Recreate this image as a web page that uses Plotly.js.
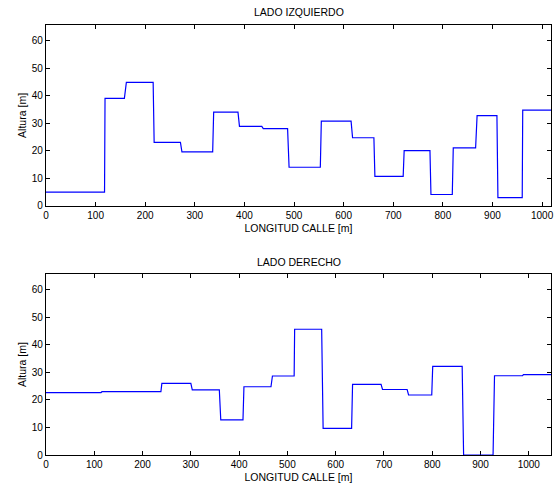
<!DOCTYPE html>
<html>
<head>
<meta charset="utf-8">
<script src="https://cdn.plot.ly/plotly-3.0.1.min.js"></script>
<style>html,body{margin:0;padding:0;background:#fff;}#chart{width:554px;height:486px;}</style>
</head>
<body>
<div id="chart"></div>
<script>
// LADO IZQUIERDO (left side) - distance [m] and building height [m]
const leftX = [0,118,119,158,162,216,218,271,274,336,338,387,390,435,438,487,490,553,555,615,618,661,663,720,722,774,776,819,821,866,869,909,911,960,961,1018];
const leftY = [5,5,39,39,44.8,44.8,23,23,19.6,19.6,34,34,28.8,28.8,28,28,14,14,30.7,30.7,24.7,24.7,10.7,10.7,20,20,4.1,4.1,21,21,32.7,32.7,3,3,34.7,34.7];

// LADO DERECHO (right side)
const rightX = [0,114,116,238,240,300,303,359,362,408,410,466,469,514,515,571,574,633,635,694,697,748,751,799,801,862,865,926,929,987,989,1046];
const rightY = [22.7,22.7,23,23,26,26,23.7,23.7,12.8,12.8,24.8,24.8,28.7,28.7,45.7,45.7,9.7,9.7,25.7,25.7,23.8,23.8,21.8,21.8,32.2,32.2,0,0,28.8,28.8,29.2,29.2];

const titles = ["LADO IZQUIERDO", "LADO DERECHO"];
const xTitle = "LONGITUD CALLE [m]";
const yTitle = "Altura [m]";
const xTicks = [0,100,200,300,400,500,600,700,800,900,1000];
const yTicks = [0,10,20,30,40,50,60];

const font = {family: "Liberation Sans, Arial, sans-serif", size: 10, color: "#000"};
const titleFont = {family: "Liberation Sans, Arial, sans-serif", size: 10.5, color: "#000"};
const lineStyle = {color: "#0000ff", width: 1.2};

const traces = [
  {x: leftX, y: leftY, type: "scatter", mode: "lines", line: lineStyle, xaxis: "x", yaxis: "y", hoverinfo: "skip"},
  {x: rightX, y: rightY, type: "scatter", mode: "lines", line: lineStyle, xaxis: "x2", yaxis: "y2", hoverinfo: "skip"}
];

function xa(range, anchor) {
  return {
    range: range, anchor: anchor, domain: [0, 1],
    tickmode: "array", tickvals: xTicks, ticktext: xTicks.map(String),
    ticks: "inside", ticklen: 4, tickcolor: "#000", tickwidth: 1,
    showline: true, linecolor: "#000", linewidth: 1.2, mirror: "ticks",
    showgrid: false, zeroline: false, layer: "below traces",
    tickfont: font,
    title: {text: xTitle, font: titleFont, standoff: 4}
  };
}
function ya(range, domain, anchor) {
  return {
    range: range, domain: domain, anchor: anchor,
    tickmode: "array", tickvals: yTicks, ticktext: yTicks.map(String),
    ticks: "inside", ticklen: 4, tickcolor: "#000", tickwidth: 1,
    showline: true, linecolor: "#000", linewidth: 1.2, mirror: "ticks",
    showgrid: false, zeroline: false, layer: "below traces",
    tickfont: font,
    title: {text: yTitle, font: titleFont, standoff: 3}
  };
}

const layout = {
  width: 554, height: 486,
  margin: {l: 46, r: 3.3, t: 25, b: 31.3},
  paper_bgcolor: "#fff", plot_bgcolor: "#fff",
  showlegend: false,
  font: font,
  xaxis: xa([0, 1018], "y"),
  yaxis: ya([0, 65.6], [0.5795, 1], "x"),
  xaxis2: xa([0, 1046], "y2"),
  yaxis2: ya([0, 65.7], [0, 0.4205], "x2"),
  annotations: [
    {text: titles[0], xref: "paper", yref: "paper", x: 0.5, y: 1, yshift: 13, showarrow: false,
     font: titleFont, xanchor: "center", yanchor: "middle"},
    {text: titles[1], xref: "paper", yref: "paper", x: 0.5, y: 0.4205, yshift: 12.5, showarrow: false,
     font: titleFont, xanchor: "center", yanchor: "middle"}
  ]
};

Plotly.newPlot("chart", traces, layout, {staticPlot: true, displayModeBar: false});
</script>
</body>
</html>
